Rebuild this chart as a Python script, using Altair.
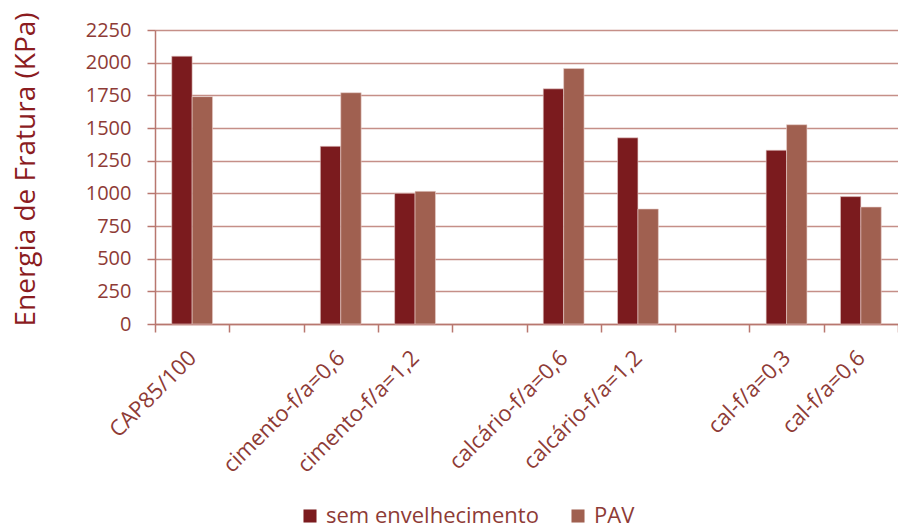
import altair as alt
import pandas as pd

# Mixtures (blank slots separate the filler groups on the axis)
categories = ["CAP85/100", " ", "cimento-f/a=0,6", "cimento-f/a=1,2", "  ",
              "calcário-f/a=0,6", "calcário-f/a=1,2", "   ",
              "cal-f/a=0,3", "cal-f/a=0,6"]
measured = ["CAP85/100", "cimento-f/a=0,6", "cimento-f/a=1,2",
            "calcário-f/a=0,6", "calcário-f/a=1,2", "cal-f/a=0,3", "cal-f/a=0,6"]
sem_envelhecimento = [2050, 1360, 1000, 1800, 1425, 1330, 975]
pav = [1740, 1770, 1015, 1955, 880, 1525, 895]
series = ["sem envelhecimento", "PAV"]
y_ticks = [0, 250, 500, 750, 1000, 1250, 1500, 1750, 2000, 2250]

rows = []
for cat, a, b in zip(measured, sem_envelhecimento, pav):
    rows.append({"mistura": cat, "serie": series[0], "energia": a})
    rows.append({"mistura": cat, "serie": series[1], "energia": b})
df = pd.DataFrame(rows)

FONT = "Open Sans"
TEXT = "#8E3B36"

chart = alt.Chart(df).mark_bar(
    stroke="#E8CFCB", strokeWidth=0.6
).encode(
    x=alt.X("mistura:N", sort=categories,
            scale=alt.Scale(domain=categories, paddingInner=0, paddingOuter=0),
            axis=alt.Axis(title=None, labelAngle=-45, labelAlign="right",
                          labelBaseline="middle", labelPadding=22,
                          labelFont=FONT, labelFontSize=22, labelColor=TEXT,
                          labelLimit=400,
                          tickBand="extent", ticks=True, tickSize=8,
                          tickColor="#B8776F", tickWidth=1.5,
                          domainColor="#B8776F", domainWidth=1.5,
                          grid=False)),
    xOffset=alt.XOffset("serie:N", sort=series,
                        scale=alt.Scale(domain=series, paddingOuter=0.82,
                                        paddingInner=0)),
    y=alt.Y("energia:Q",
            scale=alt.Scale(domain=[0, 2250], nice=False),
            axis=alt.Axis(values=y_ticks, format="d",
                          title="Energia de Fratura (KPa)",
                          titleFont=FONT, titleFontSize=28,
                          titleFontWeight="normal", titleColor="#8B1C1F",
                          titleX=-121, titleY=139, titleAnchor="middle",
                          titleBaseline="alphabetic", titleAngle=270,
                          labelFont=FONT, labelFontSize=20, labelColor=TEXT,
                          labelPadding=16, tickSize=8, tickColor="#B8776F",
                          tickWidth=1.5, domainColor="#B8776F",
                          domainWidth=1.5, grid=True, gridColor="#C58F88",
                          gridWidth=1.6)),
    color=alt.Color("serie:N", sort=series,
                    scale=alt.Scale(domain=series,
                                    range=["#7B1B1E", "#A06050"]),
                    legend=alt.Legend(title=None, orient="none",
                                      direction="horizontal",
                                      legendX=144, legendY=475,
                                      symbolType="square", symbolSize=170,
                                      symbolStrokeWidth=0,
                                      labelFont=FONT, labelFontSize=22,
                                      labelColor=TEXT, labelLimit=400,
                                      columnPadding=28, labelOffset=5)),
).properties(
    width=743, height=294,
    padding={"left": 155, "top": 30, "right": 0, "bottom": 208},
    autosize=alt.AutoSizeParams(type="none"),
).configure_view(
    fill="#F1E6E6", stroke=None
).configure(background="white")

chart.save("out.html", embed_options={"renderer": "svg", "actions": False})
